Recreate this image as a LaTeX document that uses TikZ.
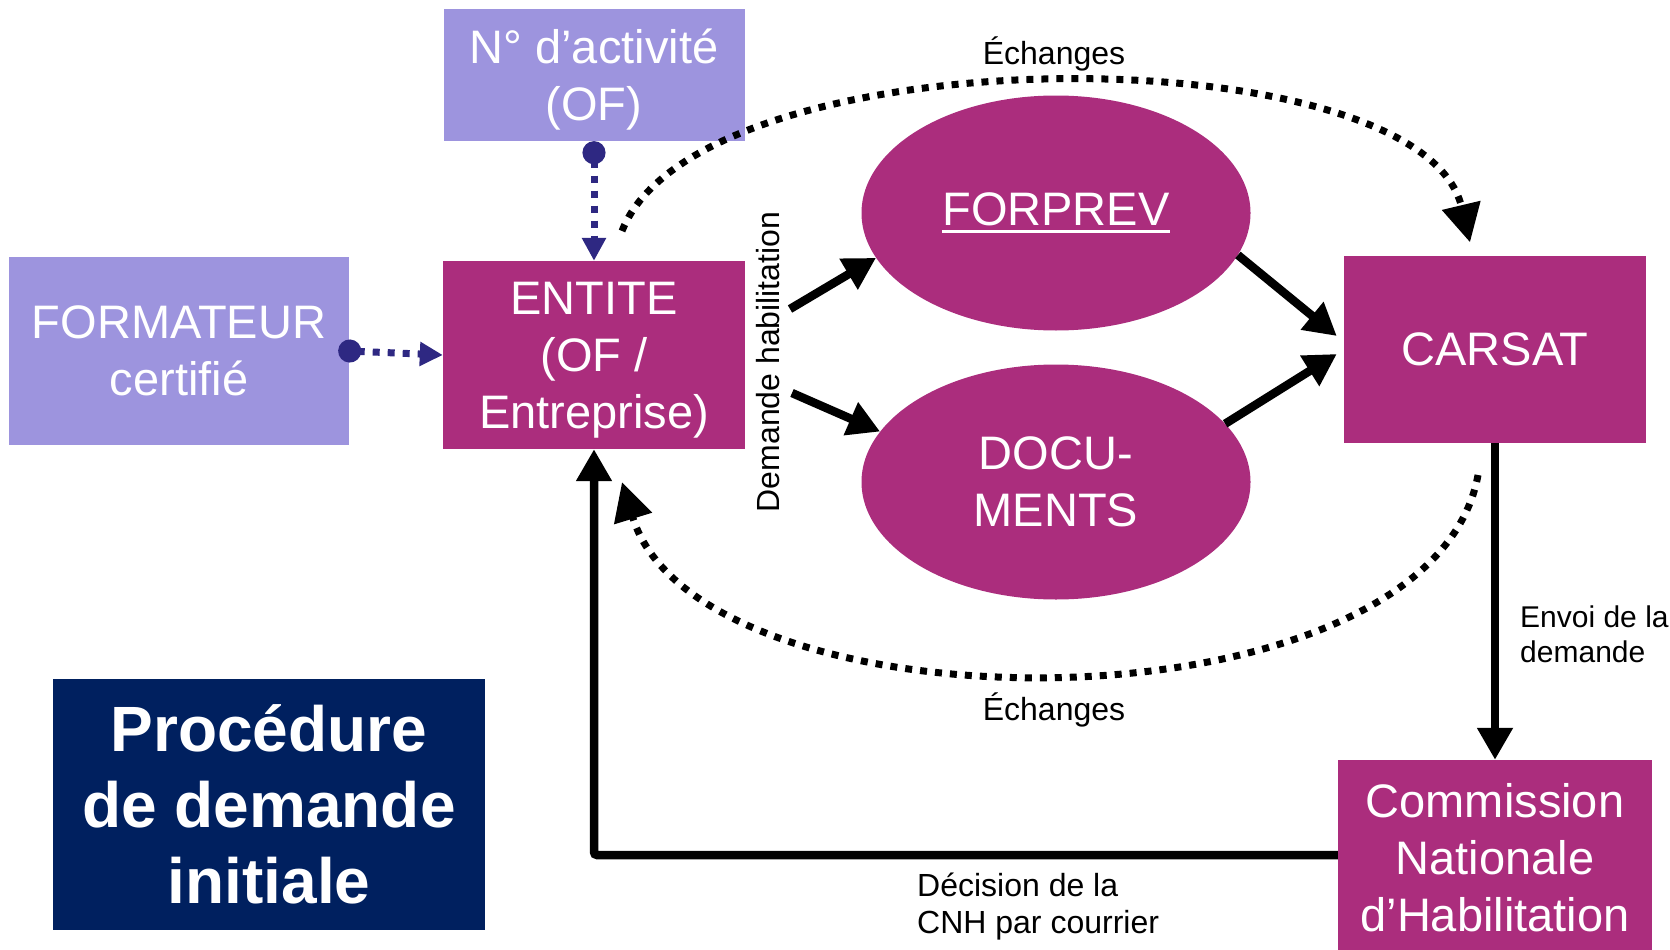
\documentclass[tikz,border=0pt]{standalone}
\usepackage{fontspec}
\setmainfont{Liberation Sans}
\usetikzlibrary{arrows.meta,shapes.geometric}
\definecolor{lilas}{HTML}{9D94DE}
\definecolor{prune}{HTML}{AB2D7D}
\definecolor{marine}{HTML}{00205F}
\definecolor{encre}{HTML}{2E2882}
\newcommand{\souligne}[1]{\setbox0=\hbox{#1}\leavevmode\rlap{\raisebox{-7.5pt}{\rule{\wd0}{3pt}}}\box0}
\newcommand{\sansprof}[1]{\raisebox{0pt}[\height][0pt]{#1}}
\begin{document}
\begin{tikzpicture}[x=1pt,y=-1pt,
lilac/.style ={rectangle, fill=lilas, text=white, align=center,
  minimum width=340pt, minimum height=188pt, inner sep=0pt,
  font=\fontsize{47}{57}\selectfont
},
magbox/.style ={rectangle, fill=prune, text=white, align=center,
  minimum width=302pt, minimum height=188pt, inner sep=0pt,
  font=\fontsize{47}{57}\selectfont
},
bubble/.style ={ellipse, fill=prune, text=white, align=center,
  minimum width=389pt, minimum height=235pt, inner sep=0pt,
  font=\fontsize{47}{57}\selectfont
},
lbl/.style ={align=left, inner sep=0pt, font=\fontsize{32}{37}\selectfont},
bigarrow/.style ={line width=8.5pt, -{Triangle[length=32pt,width=34pt]}},
dotarrow/.style ={line width=7pt, dash pattern=on 7pt off 8pt,
  -{Triangle[length=38pt,width=38pt]}},
bluedot/.style ={encre, line width=7pt, dash pattern=on 7pt off 8pt,
  {Circle[length=23pt,width=23pt]}-{Triangle[length=23pt,width=23pt]}}
]
\useasboundingbox (0,0) rectangle (1670,950);

% boxes
\node (form) at (179,351) [lilac] {FORMATEUR\\certifié};
\node (nof) at (594,75) [lilac, minimum width=301pt, minimum height=132pt] {N° d’activité\\\sansprof{(OF)}};
\node (ent) at (594,355) [magbox] {ENTITE\\(OF /\\\sansprof{Entreprise)}};
\node (forprev) at (1056,213) [bubble] {\souligne{FORPREV}};
\node (docs) at (1056,482) [bubble] {DOCU-\\MENTS};
\node (carsat) at (1495,349) [magbox, minimum height=187pt] {CARSAT};
\node (cnh) at (1495,855) [magbox, minimum width=314pt, minimum height=190pt] {\rule{0pt}{40pt}Commission\\Nationale\\d’Habilitation};
\node (titre) at (269,804) [rectangle, fill=marine, text=white, align=center,
  minimum width=432pt, minimum height=251pt, inner sep=0pt,
  font=\bfseries\fontsize{64}{76}\selectfont] {Procédure\\de demande\\initiale};

% labels
\node (ech1) at (1054,54) [lbl] {Échanges};
\node (ech2) at (1054,710) [lbl] {Échanges};
\node (dem) at (768,362) [lbl, rotate=90] {Demande habilitation};
\node (envoi) at (1520,634) [lbl, anchor=west, font=\fontsize{30}{35}\selectfont] {Envoi de la\\demande};
\node (decis) at (917,907) [lbl, anchor=west] {Décision de la\\CNH par courrier};

% connectors
\coordinate (d1) at (790,309);
\coordinate (d2) at (792,393);
\coordinate (e1) at (622,231);
\coordinate (e2) at (1478,475);

\draw[bluedot] (nof.south) -- (ent.north);
\draw[bluedot, shorten <=-11pt] (form.east) -- (ent.west);

\draw[bigarrow] (d1) -- (forprev.194);
\draw[bigarrow] (d2) -- (docs.164);
\draw[bigarrow] (forprev.347) -- ([xshift=-7pt,yshift=13pt]carsat.west);
\draw[bigarrow] (docs.19) -- ([xshift=-7pt,yshift=-5pt]carsat.west);
\draw[bigarrow] (carsat.south) -- (cnh.north);
\draw[bigarrow, rounded corners=3pt] (cnh.west) -| (ent.south);

\draw[dotarrow] (e1) .. controls (700,32) and (1420,32) .. ([xshift=-25pt,yshift=13pt]carsat.north);
\draw[dotarrow] (e2) .. controls (1430,738) and (700,738) .. ([xshift=28pt,yshift=-33pt]ent.south);

\end{tikzpicture}
\end{document}
